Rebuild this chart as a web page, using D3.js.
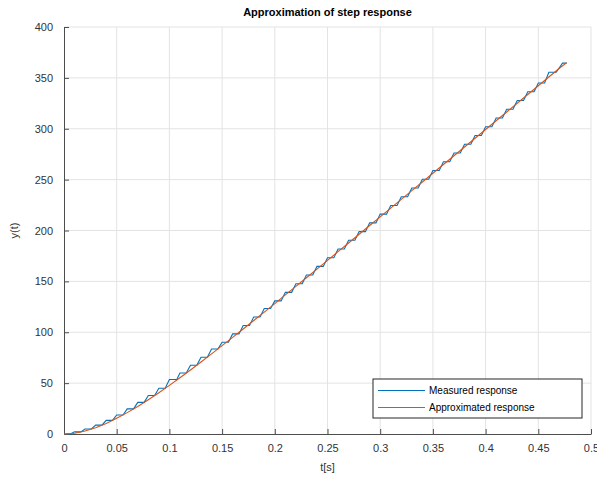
<!DOCTYPE html>
<html>
<head>
<meta charset="utf-8">
<script src="https://cdn.jsdelivr.net/npm/d3@7"></script>
<style>
  body { margin: 0; background: #fff; }
  text { font-family: "Liberation Sans", Arial, sans-serif; }
</style>
</head>
<body>
<svg class="chart"></svg>
<script>
// approximated response, sampled every 0.01 s
var approxT = [0, 0.01, 0.02, 0.03, 0.04, 0.05, 0.06, 0.07, 0.08, 0.09,
    0.10, 0.11, 0.12, 0.13, 0.14, 0.15, 0.16, 0.17, 0.18, 0.19,
    0.20, 0.21, 0.22, 0.23, 0.24, 0.25, 0.26, 0.27, 0.28, 0.29,
    0.30, 0.31, 0.32, 0.33, 0.34, 0.35, 0.36, 0.37, 0.38, 0.39,
    0.40, 0.41, 0.42, 0.43, 0.44, 0.45, 0.46, 0.47, 0.477];
var approxY = [0, 0.8, 2.9, 6.2, 10.4, 15.4, 21.0, 27.1, 33.7, 40.6,
    47.8, 55.3, 62.9, 70.8, 78.7, 86.8, 94.9, 103.2, 111.5, 119.8,
    128.2, 136.7, 145.1, 153.6, 162.1, 170.6, 179.2, 187.7, 196.3, 204.9,
    213.4, 222.0, 230.6, 239.2, 247.7, 256.3, 264.9, 273.5, 282.1, 290.7,
    299.3, 307.9, 316.5, 325.1, 333.7, 342.3, 350.9, 359.5, 365.0];

// measured response (held samples)
var measT = [0, 0.006, 0.010, 0.016, 0.020, 0.026, 0.030, 0.036, 0.040, 0.046,
    0.050, 0.056, 0.060, 0.066, 0.070, 0.076, 0.080, 0.086, 0.090, 0.096,
    0.100, 0.107, 0.110, 0.116, 0.120, 0.126, 0.130, 0.136, 0.140, 0.146,
    0.150, 0.156, 0.160, 0.166, 0.170, 0.176, 0.180, 0.186, 0.190, 0.196,
    0.200, 0.206, 0.210, 0.216, 0.220, 0.226, 0.230, 0.236, 0.240, 0.246,
    0.250, 0.256, 0.260, 0.266, 0.270, 0.276, 0.280, 0.286, 0.290, 0.296,
    0.300, 0.306, 0.310, 0.316, 0.320, 0.326, 0.330, 0.336, 0.340, 0.346,
    0.350, 0.356, 0.360, 0.366, 0.370, 0.376, 0.380, 0.386, 0.390, 0.396,
    0.400, 0.406, 0.410, 0.416, 0.420, 0.426, 0.430, 0.436, 0.440, 0.446,
    0.450, 0.456, 0.460, 0.467, 0.473, 0.477];
var measY = [0, 0, 2.1, 2.1, 4.9, 4.9, 8.7, 8.7, 13.4, 13.4,
    18.7, 18.7, 24.7, 24.7, 31.1, 31.1, 37.8, 37.8, 44.9, 44.9,
    53.5, 53.5, 59.9, 59.9, 67.6, 67.6, 75.5, 75.5, 83.6, 83.6,
    90.2, 90.2, 98.4, 98.4, 106.7, 106.7, 115.0, 115.0, 123.4, 123.4,
    130.8, 130.8, 139.2, 139.2, 147.7, 147.7, 156.2, 156.2, 164.7, 164.7,
    173.2, 173.2, 181.8, 181.8, 190.4, 190.4, 198.9, 198.9, 207.5, 207.5,
    216.1, 216.1, 224.6, 224.6, 233.2, 233.2, 241.8, 241.8, 250.4, 250.4,
    259.0, 259.0, 267.6, 267.6, 276.2, 276.2, 284.8, 284.8, 293.4, 293.4,
    302.0, 302.0, 310.6, 310.6, 319.2, 319.2, 327.8, 327.8, 336.4, 336.4,
    345.0, 345.0, 355.5, 355.5, 364.5, 364.5];

var xTicks = [0, 0.05, 0.1, 0.15, 0.2, 0.25, 0.3, 0.35, 0.4, 0.45, 0.5];
var yTicks = [0, 50, 100, 150, 200, 250, 300, 350, 400];
var seriesNames = ["Measured response", "Approximated response"];
var seriesColors = ["#0072BD", "#D95319"];

var margin = { top: 27, right: 6, bottom: 43, left: 64 },
    width = 597 - margin.left - margin.right,
    height = 477 - margin.top - margin.bottom;

var x = d3.scaleLinear().domain([0, 0.5]).range([0, width]);
var y = d3.scaleLinear().domain([0, 400]).range([height, 0]);

var svg = d3.select(".chart")
    .attr("width", 597)
    .attr("height", 477);
var chart = svg.append("g")
    .attr("transform", "translate(" + margin.left + "," + margin.top + ")");

// grid
chart.append("g").selectAll("line").data(xTicks.slice(1)).enter().append("line")
    .attr("x1", function (d) { return x(d); }).attr("x2", function (d) { return x(d); })
    .attr("y1", 0).attr("y2", height)
    .attr("stroke", "#e3e3e3").attr("stroke-width", 1);
chart.append("g").selectAll("line").data(yTicks.slice(1)).enter().append("line")
    .attr("y1", function (d) { return y(d); }).attr("y2", function (d) { return y(d); })
    .attr("x1", 0).attr("x2", width)
    .attr("stroke", "#e3e3e3").attr("stroke-width", 1);

// axes, ticks pointing inward
var xAxis = chart.append("g")
    .attr("transform", "translate(0," + height + ")")
    .call(d3.axisBottom(x).tickValues(xTicks).tickSizeInner(-5).tickSizeOuter(0).tickPadding(10)
        .tickFormat(function (d) { return d3.format("")(+d.toFixed(2)); }));
var yAxis = chart.append("g")
    .call(d3.axisLeft(y).tickValues(yTicks).tickSizeInner(-5).tickSizeOuter(0).tickPadding(11));
[xAxis, yAxis].forEach(function (a) {
    a.select(".domain").attr("stroke", "#4d4d4d");
    a.selectAll(".tick line").attr("stroke", "#4d4d4d");
    a.selectAll(".tick text").attr("fill", "#333").style("font-size", "11px")
        .style("font-family", "'Liberation Sans', Arial, sans-serif");
});

// lines
var measData = measT.map(function (t, i) { return [t, measY[i]]; });
var approxData = approxT.map(function (t, i) { return [t, approxY[i]]; });
var line = d3.line()
    .x(function (d) { return x(d[0]); })
    .y(function (d) { return y(d[1]); });

chart.append("path").datum(measData)
    .attr("d", line).attr("fill", "none")
    .attr("stroke", seriesColors[0]).attr("stroke-width", 1.1);
chart.append("path").datum(approxData)
    .attr("d", line).attr("fill", "none")
    .attr("stroke", seriesColors[1]).attr("stroke-width", 1.1);

// title and labels
svg.append("text")
    .attr("x", margin.left + width / 2).attr("y", 16)
    .attr("text-anchor", "middle")
    .style("font-size", "11px").style("font-weight", "bold")
    .attr("fill", "#000")
    .text("Approximation of step response");
svg.append("text")
    .attr("x", margin.left + width / 2).attr("y", 471)
    .attr("text-anchor", "middle")
    .style("font-size", "11px").attr("fill", "#333")
    .text("t[s]");
svg.append("text")
    .attr("transform", "translate(18," + (margin.top + height / 2) + ") rotate(-90)")
    .attr("text-anchor", "middle")
    .style("font-size", "11px").attr("fill", "#333")
    .text("y(t)");

// legend
var legend = svg.append("g").attr("transform", "translate(373,379)");
legend.append("rect")
    .attr("width", 209).attr("height", 39)
    .attr("fill", "#fff").attr("stroke", "#262626").attr("stroke-width", 1);
var item = legend.selectAll(".item").data(seriesNames).enter().append("g")
    .attr("class", "item")
    .attr("transform", function (d, i) { return "translate(0," + (11.5 + i * 17) + ")"; });
item.append("line")
    .attr("x1", 5).attr("x2", 52)
    .attr("stroke", function (d, i) { return seriesColors[i]; })
    .attr("stroke-width", 1.1);
item.append("text")
    .attr("x", 56).attr("dy", "0.35em")
    .style("font-size", "10px").attr("fill", "#000")
    .text(function (d) { return d; });
</script>
</body>
</html>
